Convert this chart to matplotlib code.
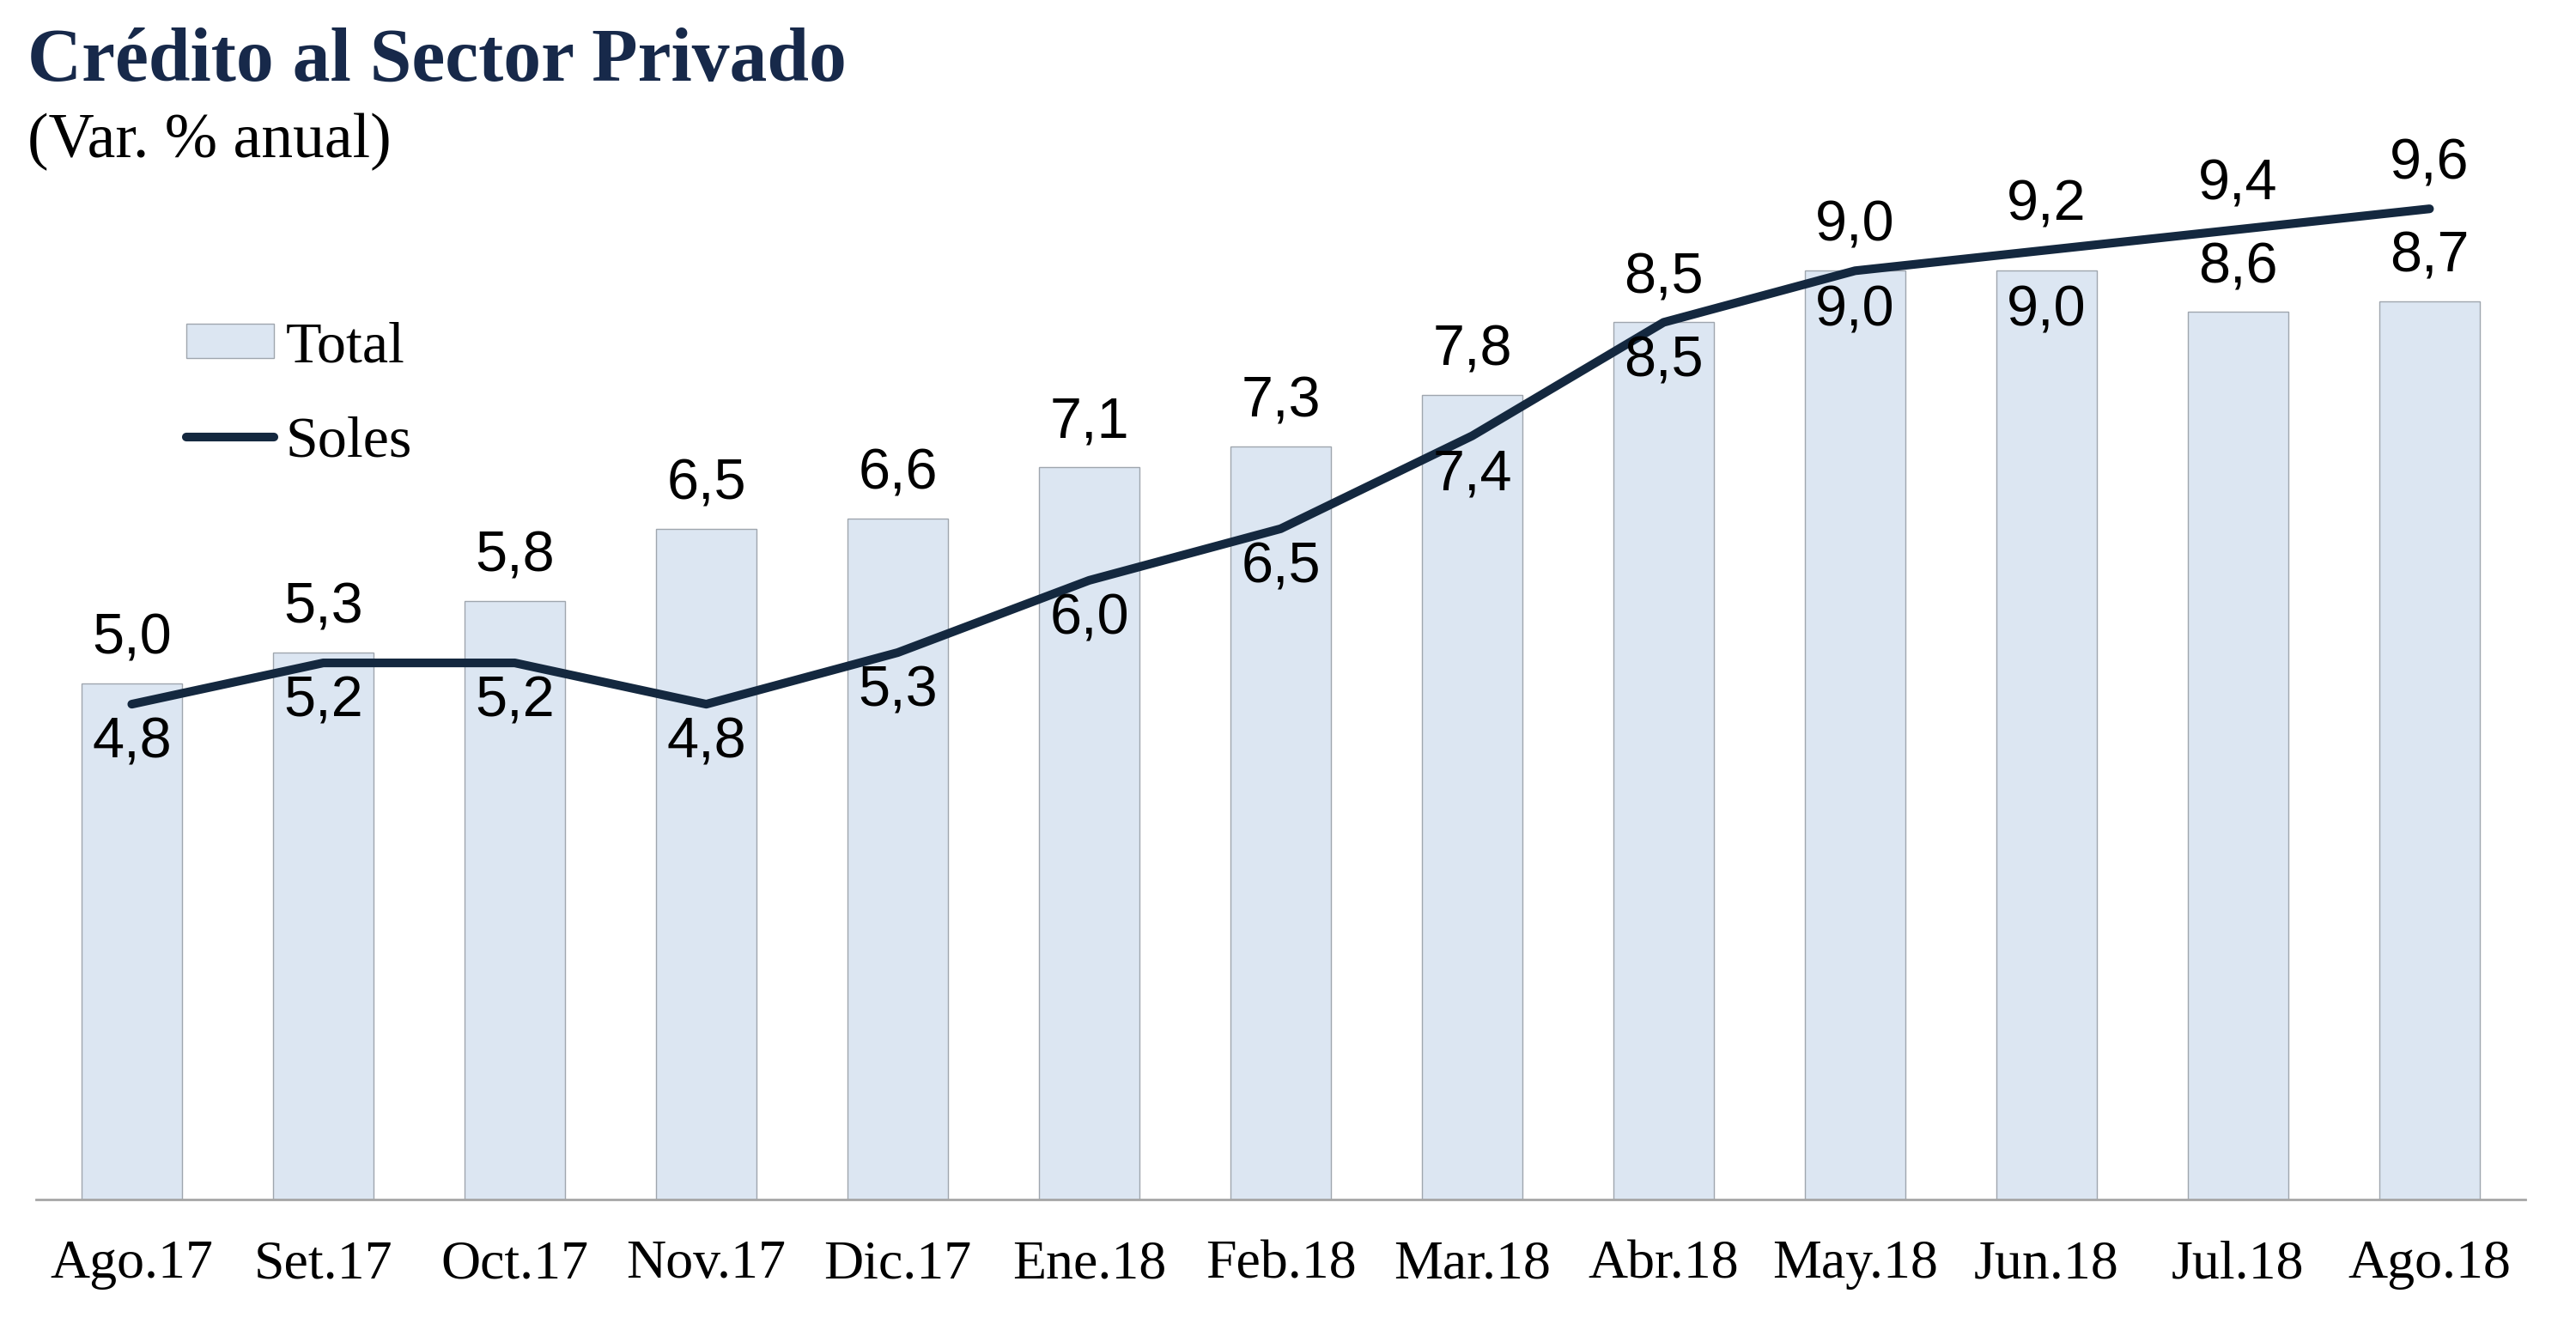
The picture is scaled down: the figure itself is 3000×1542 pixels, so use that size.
import matplotlib
matplotlib.use("Agg")
import matplotlib.pyplot as plt
from matplotlib.patches import Patch
from matplotlib.lines import Line2D

meses = ["Ago.17", "Set.17", "Oct.17", "Nov.17", "Dic.17", "Ene.18", "Feb.18",
         "Mar.18", "Abr.18", "May.18", "Jun.18", "Jul.18", "Ago.18"]
total = [5.0, 5.3, 5.8, 6.5, 6.6, 7.1, 7.3, 7.8, 8.5, 9.0, 9.0, 8.6, 8.7]
soles = [4.8, 5.2, 5.2, 4.8, 5.3, 6.0, 6.5, 7.4, 8.5, 9.0, 9.2, 9.4, 9.6]

# lado de cada etiqueta: +1 arriba, -1 abajo
lado_total = [1, 1, 1, 1, 1, 1, 1, 1, 1, -1, -1, 1, 1]
lado_soles = [-1, -1, -1, -1, -1, -1, -1, -1, -1, 1, 1, 1, 1]

azul = "#14283F"
barra = "#DCE6F2"
serif = ["Liberation Serif", "DejaVu Serif"]
sans = ["Liberation Sans", "DejaVu Sans"]

fig = plt.figure(figsize=(30, 15.42), dpi=100)
ax = fig.add_axes([0.014, 0.094, 0.9663, 0.8574])
ax.set_facecolor("none")

x = list(range(len(meses)))
ax.bar(x, total, width=0.525, color=barra, edgecolor="#9FA6AE", linewidth=1.0, zorder=1)
ax.plot(x, soles, color=azul, linewidth=7.3, solid_capstyle="round",
        solid_joinstyle="round", zorder=2)

for i in x:
    dy_t = 37 if lado_total[i] > 0 else -34
    dy_s = 37 if lado_soles[i] > 0 else -33
    ax.annotate(f"{total[i]:.1f}".replace(".", ","), (i, total[i]),
                xytext=(0, dy_t), textcoords="offset points",
                ha="center", va="center", fontsize=48, family=sans, zorder=3)
    ax.annotate(f"{soles[i]:.1f}".replace(".", ","), (i, soles[i]),
                xytext=(0, dy_s), textcoords="offset points",
                ha="center", va="center", fontsize=48, family=sans, zorder=3)

ax.set_xlim(-0.5, len(meses) - 0.5)
ax.set_ylim(0, 11)
ax.set_yticks([])
ax.set_xticks(x)
ax.set_xticklabels(meses, family=serif, fontsize=46)
ax.tick_params(axis="x", length=0, pad=34)
for s in ["top", "left", "right"]:
    ax.spines[s].set_visible(False)
ax.spines["bottom"].set_color("#A6A6A6")
ax.spines["bottom"].set_linewidth(2)

fig.text(0.0107, 0.939, "Crédito al Sector Privado", family=serif, fontweight="bold",
         fontsize=63, color="#17294A", va="baseline")
fig.text(0.0107, 0.8813, "(Var. % anual)", family=serif, fontsize=53, color="black",
         va="baseline")

handles = [Patch(facecolor=barra, edgecolor="#9FA6AE", linewidth=1.0),
           Line2D([0], [0], color=azul, linewidth=7.3, solid_capstyle="round")]
fig.legend(handles, ["Total", "Soles"], loc="upper left",
           bbox_to_anchor=(217 / 3000, (1542 - 374) / 1542), frameon=False,
           prop={"family": serif, "size": 49}, handlelength=1.5, handleheight=0.52,
           handletextpad=0.2, labelspacing=0.72, borderpad=0, borderaxespad=0)

fig.savefig("out.png", dpi=100)
